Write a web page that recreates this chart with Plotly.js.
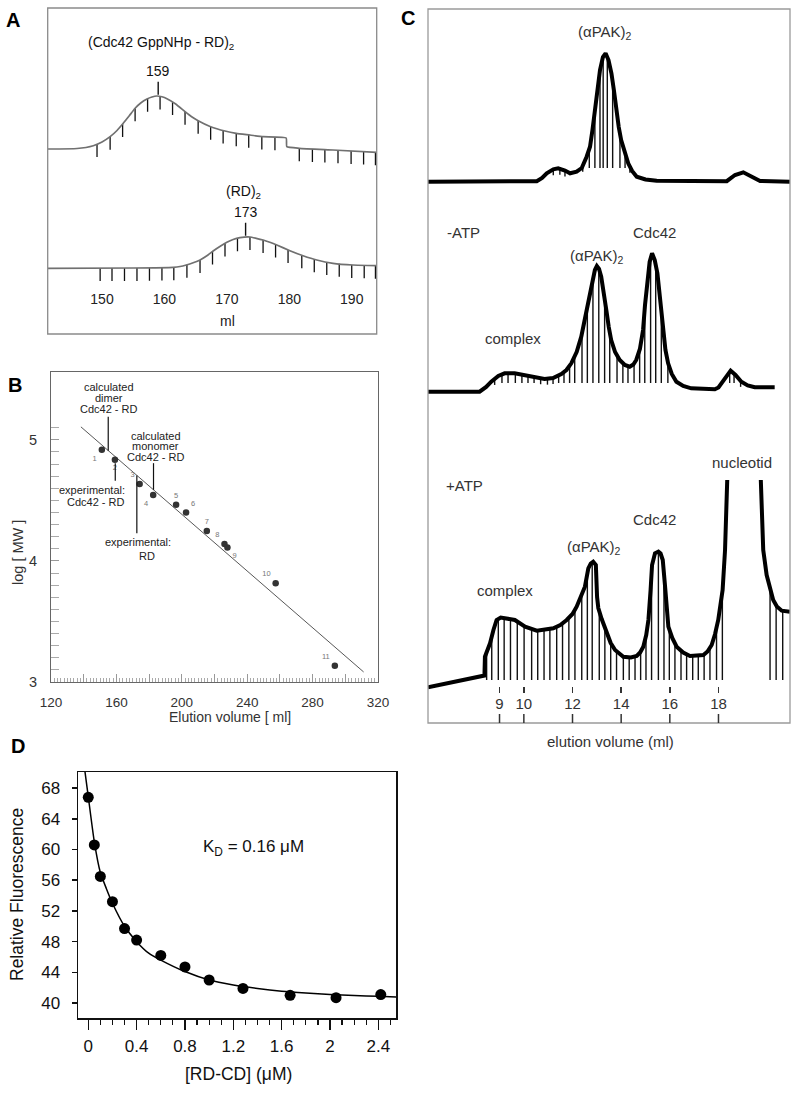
<!DOCTYPE html>
<html><head><meta charset="utf-8">
<script src="https://cdn.plot.ly/plotly-3.0.1.min.js"></script>
<style>html,body{margin:0;padding:0;background:#fff}#chart{width:799px;height:1093px}</style>
</head><body><div id="chart"></div>
<script>
// ================= DATA =================
// Panel A: gel filtration profiles (elution volume in ml, relative signal)
const aXTicks = [150, 160, 170, 180, 190];
const aTopMl  = [141.3,146,148.6,150,151.3,152.4,153.4,154.4,155.3,156.2,157.2,158,158.8,159.6,160.4,161.8,163.3,164.3,165.4,167.4,169.7,171.5,173.7,175.8,179.5,179.6,181.6,187,194];
const aTopSig = [140,140.5,143.3,147,152.3,158.5,165.7,173.5,180.7,186,190,192,193,192.2,190.3,185,177.3,172.5,168.3,162.3,158,155.7,154,152.3,151,142.3,140.7,139,136.7];
const aBotMl  = [141.3,155,161.4,162.5,163.5,164.6,165.7,166.8,167.8,169,170,171,172.1,173.7,174.7,175.8,177,178,180.1,182.2,184.4,187,190.2,194];
const aBotSig = [20.7,21,21.7,22.5,24,26.2,29,33.2,38,43,46.7,49.5,51.3,52,50.7,49,46.5,44,38.3,33.3,29,25.7,24,23.3];
const aTopFrac = [149.2,151.3,153.3,155.3,157.3,159.3,161.3,163.3,165.4,167.4,169.4,171.5,173.5,175.6,177.7,181.6,183.7,185.7,187.8,189.9,191.9,193.8];
const aBotFrac = [149.7,151.6,153.6,155.6,157.6,159.6,161.5,163.6,165.7,167.7,169.7,171.7,173.7,175.8,177.8,179.8,182.0,184.0,186.0,188.0,190.0,192.0,193.8];
const aPeakVals = [159, 173];
const aPeakNames = ['(Cdc42 GppNHp - RD)<sub>2</sub>', '(RD)<sub>2</sub>'];

// Panel B: calibration (elution volume ml, log MW)
const bMl     = [151.1,159.1,174.2,182.5,196.5,202.6,215.3,226.1,227.9,257.4,293.6];
const bLogMW  = [4.917,4.835,4.636,4.545,4.463,4.40,4.248,4.14,4.11,3.816,3.135];
const bLabels = ['1','2','3','4','5','6','7','8','9','10','11'];
const bFitMl  = [138.3, 311.2];
const bFitLog = [5.107, 3.083];
const bXTicks = [120,160,200,240,280,320];
const bXMidTicks = [140,180,220,260,300];
const bYTicks = [3,4,5];

// Panel C: chromatograms (elution volume ml, absorbance a.u.)
const cTicks = [9,10,12,14,16,18];
const cTopMl  = [6.06,10.53,10.75,10.94,11.21,11.41,11.69,11.9,12.17,12.38,12.58,12.72,12.82,12.92,13.03,13.13,13.25,13.36,13.48,13.6,13.7,13.8,13.9,14.0,14.14,14.29,14.45,14.64,15.0,15.46,18.34,18.52,18.68,19.02,19.37,19.71,20.94];
const cTopAbs = [511.3,511.8,515,519.7,523.7,524.7,522.5,519.7,521.3,525,536.3,546.3,563,583,605,623,636,639.7,633,619.7,603,583,566,553,540,529.7,522,516.3,513.5,512.3,511.8,515,518,520.7,516.3,512,511.3];
const cMinusMl  = [6.06,8.18,8.45,8.66,8.95,9.21,9.62,10.17,10.85,11.2,11.54,11.75,11.95,12.17,12.36,12.5,12.63,12.74,12.84,12.92,13.0,13.09,13.18,13.29,13.39,13.49,13.59,13.75,13.94,14.15,14.35,14.5,14.62,14.77,14.9,14.98,15.07,15.17,15.27,15.38,15.49,15.6,15.72,15.82,15.93,16.08,16.27,16.55,16.88,17.85,18.0,18.12,18.3,18.5,18.7,18.94,19.2,19.49,20.31];
const cMinusAbs = [301.3,301.3,306,311.3,317,319.7,319.7,317.3,314,315,319,323,329.7,341,356.3,373,389.7,405,416.3,423,427,424,416.3,401,383,366,353,341,333,328,326.3,328.5,333,344,363,388,413,431,439.7,433,419.7,393,363,343,329.7,319,311.3,307,304.7,303.7,305.5,309.7,317,322.3,318,311.3,307.5,305.7,305.7];
const cPlusMl  = [6.06,8.195,8.38,8.40,8.61,8.75,8.88,9.05,9.22,9.63,10.05,10.53,11.21,11.5,11.76,12.0,12.17,12.35,12.51,12.65,12.75,12.85,12.96,13.01,13.06,13.2,13.4,13.57,13.75,14.09,14.4,14.64,14.78,14.91,15.03,15.12,15.21,15.27,15.39,15.53,15.62,15.71,15.80,15.87,15.94,16.1,16.28,16.55,16.83,17.38,17.55,17.72,17.86,17.99,18.09,18.17,18.27,18.36,19.05,19.74,19.84,19.98,20.12,20.25,20.4,20.60,20.94];
const cPlusAbs = [5.7,15.7,17.5,36.3,49.7,63,73,75.5,74.7,73,66.3,62.3,64.7,68,73,79,86.3,96,106.3,124.7,129.5,131.3,128,96,85,74,59.7,50,43,36.3,35.5,37,40.5,46.3,58,73,103,128,139.7,141.3,139.5,133,108,88,66.3,55,46.3,40.5,37,38,41.5,48,59,73,88,103,143,213,null,213,143,118,103,93,86.5,82.3,81.3];
const cTopFrac   = [11.21,11.48,11.69,12.42,12.69,12.92,13.13,13.26,13.43,13.65,13.95,14.16,14.36];
const cMinusFrac = [8.80,9.10,9.35,9.65,9.92,10.17,10.42,10.69,10.97,11.20,11.43,11.65,11.88,12.09,12.39,12.61,12.84,13.08,13.32,13.53,13.83,14.07,14.28,14.53,14.76,14.97,15.21,15.42,15.65,15.92,18.46,18.64,18.91];
const cPlusFrac  = [8.47,8.68,8.95,9.19,9.45,9.73,10.01,10.32,10.57,10.83,11.07,11.35,11.59,11.85,12.10,12.38,12.61,12.81,13.10,13.33,13.57,13.81,14.09,14.33,14.57,14.80,15.02,15.25,15.53,15.76,15.98,16.21,16.46,16.69,16.94,17.17,17.41,17.65,17.92,18.16,20.12,20.37,20.64];

// Panel D: fluorescence titration
const dConc  = [0,0.05,0.1,0.2,0.3,0.4,0.6,0.8,1.0,1.28,1.67,2.05,2.42];
const dFluor = [66.8,60.6,56.5,53.2,49.7,48.2,46.2,44.7,43.0,41.9,41.0,40.7,41.1];
const dFitConc  = [-0.027,0,0.05,0.1,0.15,0.2,0.3,0.4,0.5,0.6,0.8,1.0,1.2,1.4,1.6,1.8,2.0,2.2,2.4,2.55];
const dFitFluor = [70.1,66.9,61.0,57.0,54.9,53.0,50.0,48.0,46.5,45.6,44.1,43.0,42.35,41.9,41.55,41.3,41.1,40.97,40.87,40.78];
const dXTicks = [0,0.4,0.8,1.2,1.6,2,2.4];
const dYTicks = [40,44,48,52,56,60,64,68];

// ================= HELPERS =================
const W = 799, H = 1093;
const FONT = 'Liberation Sans, Arial, Helvetica, sans-serif';
const px = p => p / W;
const py = p => 1 - p / H;

function interp(xs, ys, x) {
  for (let i = 0; i < xs.length - 1; i++) {
    if (ys[i] == null || ys[i+1] == null) continue;
    if (x >= xs[i] && x <= xs[i+1]) {
      const d = xs[i+1] - xs[i];
      const t = d === 0 ? 0 : (x - xs[i]) / d;
      return ys[i] + t * (ys[i+1] - ys[i]);
    }
  }
  return null;
}
function marks(xs, ys, fr, bottomFn) {
  const X = [], Y = [];
  fr.forEach(f => {
    const t = interp(xs, ys, f);
    if (t == null) return;
    X.push(f, f, null); Y.push(t, bottomFn(t), null);
  });
  return {X, Y};
}
const C = {xanchor: 'center', yanchor: 'middle', showarrow: false};

const traces = [];
// ---- Panel A ----
const A_MARK = 13;
[[aTopMl, aTopSig, aTopFrac], [aBotMl, aBotSig, aBotFrac]].forEach(([xs, ys, fr]) => {
  const m = marks(xs, ys, fr, t => t - A_MARK);
  traces.push({x: m.X, y: m.Y, xaxis: 'x', yaxis: 'y', mode: 'lines', line: {color: '#111', width: 1.3}, hoverinfo: 'skip'});
  traces.push({x: xs, y: ys, xaxis: 'x', yaxis: 'y', mode: 'lines', line: {color: '#707070', width: 1.7, shape: 'spline', smoothing: 0.4}, hoverinfo: 'skip'});
});
const aAnn = [];
[[aTopMl, aTopSig], [aBotMl, aBotSig]].forEach(([xs, ys], i) => {
  const v = aPeakVals[i];
  const base = interp(xs, ys, v) + 1.5;
  traces.push({x: [v, v], y: [base, base + 13], xaxis: 'x', yaxis: 'y', mode: 'lines', line: {color: '#111', width: 1.4}, hoverinfo: 'skip'});
  aAnn.push(Object.assign({text: String(v), x: v, y: base + 24, xref: 'x', yref: 'y', font: {size: 14, color: '#111'}}, C));
});
aAnn.push(Object.assign({text: aPeakNames[0], x: 159.5, y: 246, xref: 'x', yref: 'y', font: {size: 14, color: '#111'}}, C));
aAnn.push(Object.assign({text: aPeakNames[1], x: 172.6, y: 97, xref: 'x', yref: 'y', font: {size: 14, color: '#111'}}, C));

// ---- Panel B ----
traces.push({x: bFitMl, y: bFitLog, xaxis: 'x2', yaxis: 'y2', mode: 'lines', line: {color: '#444', width: 0.9}, hoverinfo: 'skip'});
const bPos = ['bottom left','bottom center','top left','bottom left','top center','top right','top center','top left','bottom right','top left','top left'];
traces.push({x: bMl, y: bLogMW, text: bLabels, xaxis: 'x2', yaxis: 'y2', mode: 'markers+text',
  marker: {color: '#333', size: 6.5}, textposition: bPos, textfont: {size: 7.5, color: '#777'}, hoverinfo: 'skip', cliponaxis: false});
// invisible anchor trace for the extra tick axis of panel B
traces.push({x: [null], y: [null], xaxis: 'x5', yaxis: 'y2', mode: 'markers', hoverinfo: 'skip', showlegend: false});
const bCallouts = [
  {lines: ['calculated','dimer','Cdc42 - RD'], tx: [155.4,155.4,155.4], ty: [5.44,5.345,5.254], lx: 155,   ly: [5.19, 4.91]},
  {lines: ['calculated','monomer','Cdc42 - RD'], tx: [184.1,184.1,184.1], ty: [5.033,4.95,4.862], lx: 182.7, ly: [4.807, 4.587]},
  {lines: ['experimental:','Cdc42 - RD'], tx: [145,147.7], ty: [4.587,4.49], lx: 159.3, ly: [4.807, 4.661]},
  {lines: ['experimental:','RD'], tx: [173.3,179], ty: [4.155,4.044], lx: 172.5, ly: [4.705, 4.229]}
];
const bAnn = [];
bCallouts.forEach(c => {
  traces.push({x: [c.lx, c.lx], y: c.ly, xaxis: 'x2', yaxis: 'y2', mode: 'lines', line: {color: '#111', width: 1.2}, hoverinfo: 'skip'});
  c.lines.forEach((t, i) => bAnn.push(Object.assign({text: t, x: c.tx[i], y: c.ty[i], xref: 'x2', yref: 'y2', font: {size: 11, color: '#222'}}, C)));
});

// ---- Panel C ----
const cSets = [
  [cTopMl, cTopAbs, cTopFrac, 525],
  [cMinusMl, cMinusAbs, cMinusFrac, 310],
  [cPlusMl, cPlusAbs, cPlusFrac, 13]
];
cSets.forEach(([xs, ys, fr, lvl]) => {
  const m = marks(xs, ys, fr, t => Math.min(lvl, t - 6));
  traces.push({x: m.X, y: m.Y, xaxis: 'x3', yaxis: 'y3', mode: 'lines', line: {color: '#111', width: 1.4}, hoverinfo: 'skip'});
});
cSets.forEach(([xs, ys]) => {
  traces.push({x: xs, y: ys, xaxis: 'x3', yaxis: 'y3', mode: 'lines', connectgaps: false, line: {color: '#000', width: 4, shape: 'linear'}, hoverinfo: 'skip'});
});
const cLab = [
  ['(αPAK)<sub>2</sub>', 13.33, 660], ['-ATP', 7.51, 460], ['Cdc42', 15.39, 460], ['(αPAK)<sub>2</sub>', 13.0, 436],
  ['complex', 9.56, 354], ['nucleotid', 18.96, 230], ['+ATP', 7.56, 207], ['Cdc42', 15.38, 174],
  ['(αPAK)<sub>2</sub>', 12.88, 146], ['complex', 9.24, 103]
];
const cAnn = cLab.map(([t, x, y]) => Object.assign({text: t, x, y, xref: 'x3', yref: 'y3', font: {size: 15, color: '#333'}}, C));

// ---- Panel D ----
traces.push({x: dFitConc, y: dFitFluor, xaxis: 'x4', yaxis: 'y4', mode: 'lines', line: {color: '#000', width: 1.5, shape: 'spline', smoothing: 0.6}, hoverinfo: 'skip'});
traces.push({x: dConc, y: dFluor, xaxis: 'x4', yaxis: 'y4', mode: 'markers', marker: {color: '#000', size: 11}, hoverinfo: 'skip', cliponaxis: false});

// ================= LAYOUT =================
const txt = (text, x, y, size, color, extra) => Object.assign({text, x: px(x), y: py(y), xref: 'paper', yref: 'paper', font: {size, color: color || '#222'}}, C, extra || {});
const letters = [['A', 13, 20], ['B', 15, 385], ['C', 408, 18], ['D', 18, 746]].map(([t, x, y]) => txt('<b>' + t + '</b>', x, y, 20, '#000'));

const bMinorY = []; for (let v = 3.1; v < 5.15; v += 0.1) { const r = Math.round(v * 10) / 10; if (r % 1 !== 0) bMinorY.push(r); }

const shapes = [
  {type: 'rect', xref: 'paper', yref: 'paper', x0: px(47.7), x1: px(376.7), y0: py(334), y1: py(8), line: {color: '#8a8a8a', width: 1.3}},
  {type: 'rect', xref: 'paper', yref: 'paper', x0: px(428), x1: px(790), y0: py(723), y1: py(9), line: {color: '#9a9a9a', width: 1.3}}
];
cTicks.forEach(v => shapes.push({type: 'line', xref: 'x3', yref: 'paper', x0: v, x1: v, y0: py(723), y1: py(714), line: {color: '#333', width: 1.5}}));

const noGrid = {showgrid: false, zeroline: false};
const layout = {
  width: W, height: H, margin: {l: 0, r: 0, t: 0, b: 0},
  paper_bgcolor: '#fff', plot_bgcolor: 'rgba(0,0,0,0)', showlegend: false,
  font: {family: FONT, color: '#222'},
  xaxis: Object.assign({domain: [px(47.7), px(376.7)], range: [141.3, 194.0], anchor: 'y', tickmode: 'array', tickvals: aXTicks,
    ticks: '', showline: false, tickfont: {size: 14, color: '#222'}}, noGrid),
  yaxis: Object.assign({domain: [py(289), py(8)], range: [0, 281], anchor: 'x', showticklabels: false, ticks: '', showline: false}, noGrid),
  xaxis2: Object.assign({domain: [px(51), px(378)], range: [120, 320], anchor: 'y2', showline: true, mirror: true, linecolor: '#666', linewidth: 1,
    tickmode: 'array', tickvals: bXTicks, ticks: 'inside', ticklen: 8, tickcolor: '#999', tickwidth: 1, ticklabelstandoff: 8, tickfont: {size: 13.5, color: '#333'},
    minor: {tickmode: 'linear', tick0: 120, dtick: 2, ticks: 'inside', ticklen: 4, tickcolor: '#aaa', tickwidth: 1, showgrid: false}}, noGrid),
  xaxis5: Object.assign({overlaying: 'x2', anchor: 'y2', range: [120, 320], tickmode: 'array', tickvals: bXMidTicks, ticks: 'inside', ticklen: 8,
    tickcolor: '#999', tickwidth: 1, showticklabels: false, showline: false}, noGrid),
  yaxis2: Object.assign({domain: [py(682), py(372)], range: [3, 5.56], anchor: 'x2', showline: true, mirror: true, linecolor: '#666', linewidth: 1,
    tickmode: 'array', tickvals: bYTicks, ticks: 'inside', ticklen: 8, tickcolor: '#999', ticklabelstandoff: 10, tickfont: {size: 14.5, color: '#333'},
    minor: {tickmode: 'array', tickvals: bMinorY, ticks: 'inside', ticklen: 8, tickcolor: '#aaa', showgrid: false}}, noGrid),
  xaxis3: Object.assign({domain: [px(428), px(790)], range: [6.06, 20.94], anchor: 'y3', tickmode: 'array', tickvals: cTicks,
    ticks: 'inside', ticklen: 6, tickwidth: 1.5, tickcolor: '#333', showline: false, tickfont: {size: 15, color: '#333'}}, noGrid),
  yaxis3: Object.assign({domain: [py(693), py(9)], range: [0, 684], anchor: 'x3', showticklabels: false, ticks: '', showline: false}, noGrid),
  xaxis4: Object.assign({domain: [px(78), px(396)], range: [-0.085, 2.546], anchor: 'y4', showline: true, mirror: true, linecolor: '#111', linewidth: 1.5,
    tickmode: 'array', tickvals: dXTicks, ticktext: dXTicks.map(String), ticks: 'outside', ticklen: 10, tickwidth: 1.5, tickcolor: '#111',
    ticklabelstandoff: 2, tickfont: {size: 17, color: '#111'},
    minor: {tickmode: 'linear', tick0: 0, dtick: 0.1, ticks: 'outside', ticklen: 5, tickwidth: 1.2, tickcolor: '#111', showgrid: false}}, noGrid),
  yaxis4: Object.assign({domain: [py(1018), py(772)], range: [38.05, 70.1], anchor: 'x4', showline: true, mirror: true, linecolor: '#111', linewidth: 1.5,
    tickmode: 'array', tickvals: dYTicks, ticks: 'outside', ticklen: 5, tickwidth: 1.5, tickcolor: '#111', ticklabelstandoff: 8, tickfont: {size: 17, color: '#111'}}, noGrid),
  shapes,
  annotations: [].concat(letters, aAnn, bAnn, cAnn, [
    txt('ml', 227, 321, 14),
    txt('Elution volume [ ml]', 230, 717, 14, '#333'),
    txt('log [ MW ]', 18, 553, 14.5, '#333', {textangle: -90}),
    txt('elution volume (ml)', 610, 741, 15, '#333'),
    txt('Relative Fluorescence', 17, 895, 17.5, '#111', {textangle: -90}),
    txt('[RD-CD] (μM)', 238, 1074, 17.5, '#111'),
    Object.assign({text: 'K<sub>D</sub> = 0.16 μM', x: 1.366, y: 60.26, xref: 'x4', yref: 'y4', font: {size: 17, color: '#111'}}, C)
  ])
};

Plotly.newPlot('chart', traces, layout, {staticPlot: true, displayModeBar: false});
</script>
</body></html>
